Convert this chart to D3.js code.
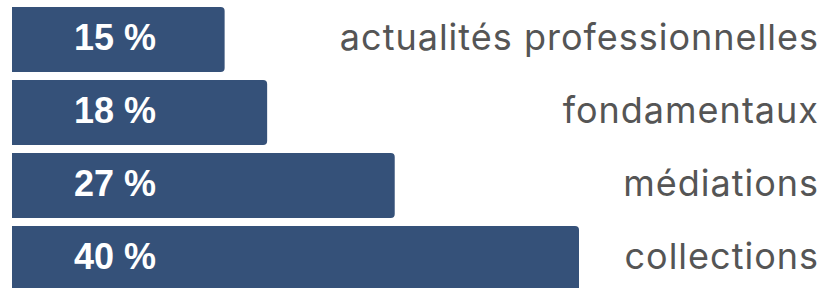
<!DOCTYPE html>
<html>
<head>
<meta charset="utf-8">
<script src="https://cdn.jsdelivr.net/npm/d3@7"></script>
<style>
  body { margin: 0; background: #fff; }
  svg { display: block; }
</style>
</head>
<body>
<svg id="chart" width="826" height="288"></svg>
<script>
// categories, top to bottom
var categories = ["actualités professionnelles", "fondamentaux", "médiations", "collections"];
// share of each category, in percent
var values = [15, 18, 27, 40];
var valueLabels = ["15 %", "18 %", "27 %", "40 %"];

var svg = d3.select("#chart");
var barColor = "#355179";
var radius = 4;

var xScale = d3.scaleLinear()
    .domain([0, 40])
    .range([12, 579]);

// bands of 65px on a 73px step
var yScale = d3.scaleBand()
    .domain(categories)
    .range([7, 7 + 4 * 73 - 8])
    .paddingInner(8 / 73)
    .paddingOuter(0);

// bar with square left side and rounded right corners
function barPath(x0, x1, y0, h) {
    var r = Math.min(radius, (x1 - x0) / 2);
    return "M" + x0 + "," + y0 +
        "H" + (x1 - r) +
        "Q" + x1 + "," + y0 + " " + x1 + "," + (y0 + r) +
        "V" + (y0 + h - r) +
        "Q" + x1 + "," + (y0 + h) + " " + (x1 - r) + "," + (y0 + h) +
        "H" + x0 + "Z";
}

var rows = svg.selectAll("g.row")
    .data(categories)
    .enter()
    .append("g")
    .attr("class", "row");

rows.append("path")
    .attr("d", function (d, i) {
        return barPath(xScale(0), xScale(values[i]), yScale(d), yScale.bandwidth());
    })
    .attr("fill", barColor);

rows.append("text")
    .attr("x", 115)
    .attr("y", function (d) { return yScale(d) + yScale.bandwidth() / 2 + 10.5; })
    .attr("text-anchor", "middle")
    .style("font-family", "'Liberation Sans', Arial, sans-serif")
    .style("font-weight", "bold")
    .style("font-size", "36px")
    .attr("fill", "#fff")
    .text(function (d, i) { return valueLabels[i]; });

rows.append("text")
    .attr("x", 819)
    .attr("y", function (d) { return yScale(d) + yScale.bandwidth() / 2 + 10.5; })
    .attr("text-anchor", "end")
    .style("font-family", "Inter, 'Noto Sans', sans-serif")
    .style("font-size", "36px")
    .style("letter-spacing", "1px")
    .attr("fill", "#555555")
    .text(function (d) { return d; });
</script>
</body>
</html>
